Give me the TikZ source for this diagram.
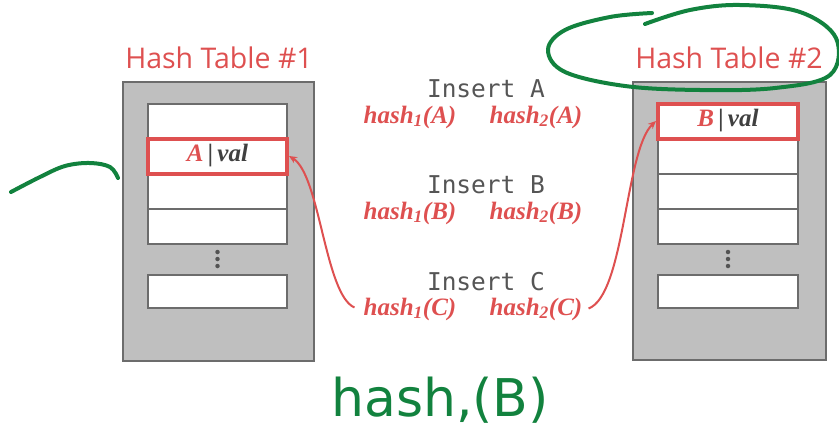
\documentclass[tikz,border=0pt]{standalone}
\usepackage{fontspec}
\setmainfont{Liberation Serif}
\newfontfamily\titlefont{Open Sans}
\newfontfamily\codefont{DejaVu Sans Mono}
\newfontfamily\inkfont{DejaVu Sans}
\usetikzlibrary{arrows.meta}

\definecolor{hred}{RGB}{222,80,80}
\definecolor{tablefill}{RGB}{191,191,191}
\definecolor{tableedge}{RGB}{108,108,108}
\definecolor{codegray}{RGB}{85,85,85}
\definecolor{valgray}{RGB}{64,64,64}
\definecolor{ink}{RGB}{18,130,62}

\tikzset{
  tablebox/.style={draw=tableedge, fill=tablefill, line width=2.5pt, inner sep=0pt},
  slot/.style={draw=tableedge, fill=white, line width=2pt, inner sep=0pt,
               minimum width=139pt, minimum height=35pt},
  hitslot/.style={slot, draw=hred, line width=4pt},
  title/.style={text=hred, font=\titlefont\fontsize{28.5}{29}\selectfont,
                inner sep=0pt, anchor=base},
  op/.style={text=codegray, font=\codefont\fontsize{24.5}{25}\selectfont,
             inner sep=0pt, anchor=base, text height=17pt, text depth=2pt},
  hashfn/.style={text=hred, font=\fontsize{25}{25}\selectfont\bfseries\itshape,
                 inner sep=0pt, anchor=base, text height=16pt, text depth=5pt},
  entry/.style={font=\fontsize{25}{25}\selectfont\bfseries\itshape, text=valgray},
  dot/.style={fill=valgray!90, draw=none, circle, inner sep=0pt, minimum size=4.5pt},
  probe/.style={draw=hred, line width=2pt, -{Stealth[length=8pt,width=7pt]}},
  pen/.style={draw=ink, line width=4pt, line cap=round, line join=round}
}

\newcommand{\hfn}[2]{hash\textsubscript{#1}(#2)}

\begin{document}
\begin{tikzpicture}[x=1pt, y=-1pt]
\useasboundingbox (0,0) rectangle (839,437);

% --- table 1 ---
\node[tablebox, minimum width=191pt, minimum height=279pt] (t1) at (218.5,221.5) {};
\node[title] (t1title) at (219,68) {Hash Table \#1};
\node[slot] (t1s1) at (217.5,121) {};
\node[slot] (t1s3) at (217.5,191) {};
\node[slot] (t1s4) at (217.5,226) {};
\node[slot, minimum height=33pt] (t1s5) at (217.5,291.5) {};
\node[hitslot] (aval) at (217.5,156) {};
\node[entry] (avaltext) at (217.5,156) {\textcolor{hred}{A}\,|\,val};
\node[dot] (t1d1) at (217.5,252) {};
\node[dot] (t1d2) at (217.5,259) {};
\node[dot] (t1d3) at (217.5,266) {};

% --- table 2 ---
\node[tablebox, minimum width=193pt, minimum height=278pt] (t2) at (729.5,221) {};
\node[title] (t2title) at (729,68) {Hash Table \#2};
\node[slot, minimum width=140pt] (t2s2) at (728,156) {};
\node[slot, minimum width=140pt] (t2s3) at (728,191) {};
\node[slot, minimum width=140pt] (t2s4) at (728,226) {};
\node[slot, minimum width=140pt, minimum height=33pt] (t2s5) at (728,291.5) {};
\node[hitslot, minimum width=140pt] (bval) at (728,121) {};
\node[entry] (bvaltext) at (728,121) {\textcolor{hred}{B}\,|\,val};
\node[dot] (t2d1) at (728,252) {};
\node[dot] (t2d2) at (728,259) {};
\node[dot] (t2d3) at (728,266) {};

% --- operations ---
\node[op] (insa) at (486,97) {Insert A};
\node[hashfn] (h1a) at (410,123) {\hfn{1}{A}};
\node[hashfn] (h2a) at (536,123) {\hfn{2}{A}};

\node[op] (insb) at (486,193) {Insert B};
\node[hashfn] (h1b) at (410,219) {\hfn{1}{B}};
\node[hashfn] (h2b) at (536,219) {\hfn{2}{B}};

\node[op] (insc) at (486,290) {Insert C};
\node[hashfn] (h1c) at (410,315) {\hfn{1}{C}};
\node[hashfn] (h2c) at (536,315) {\hfn{2}{C}};

% --- probe arrows ---
\draw[probe] ([xshift=-9pt,yshift=2pt]h1c.west) .. controls (325,295) and (320,175) .. (aval.east);
\draw[probe] ([xshift=6pt,yshift=1pt]h2c.east) .. controls (625,295) and (625,150) .. (bval.west);

% --- pen annotations ---
\draw[pen] plot[smooth, tension=0.6] coordinates {
  (645,24) (690,10) (740,5) (800,12) (836,38) (830,75) (775,88) (700,90)
  (625,86) (565,72) (548,50) (565,30) (610,17) (652,13)};
\draw[pen] plot[smooth, tension=0.6] coordinates {
  (11,192) (40,177) (65,166) (90,163) (110,167) (118,178)};
\node[text=ink, font=\inkfont\fontsize{52}{52}\selectfont, inner sep=0pt] (note) at (440,400) {hash,(B)};
\end{tikzpicture}
\end{document}
